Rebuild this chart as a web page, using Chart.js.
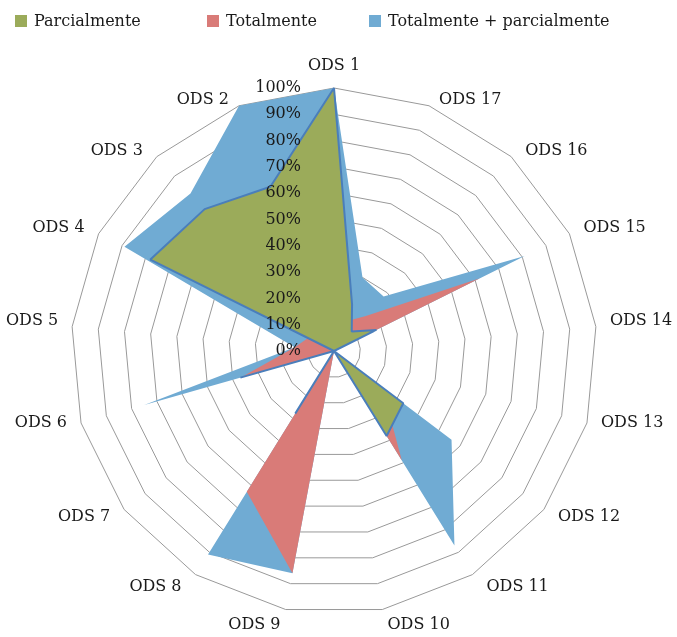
<!DOCTYPE html>
<html><head><meta charset="utf-8">
<script src="https://cdn.jsdelivr.net/npm/chart.js@4/dist/chart.umd.min.js"></script>
<style>
html,body{margin:0;padding:0;background:#fff;overflow:hidden;}
#wrap{position:relative;width:677px;height:637px;overflow:hidden;}
canvas{position:absolute;left:0;top:0;}
#legend{position:absolute;left:0;top:0;width:677px;height:40px;font-family:"DejaVu Serif";font-size:16px;color:#1a1a1a;z-index:2;}
.item{position:absolute;top:11px;display:flex;align-items:center;white-space:nowrap;line-height:20px;}
.box{width:12px;height:12px;margin-right:7px;}
</style></head><body>
<div id="wrap"><canvas id="c" width="677" height="637"></canvas><div id="legend"></div></div>
<script>
const categories = ["ODS 1","ODS 17","ODS 16","ODS 15","ODS 14","ODS 13","ODS 12","ODS 11","ODS 10","ODS 9","ODS 8","ODS 7","ODS 6","ODS 5","ODS 4","ODS 3","ODS 2"];
const parcialmente = [100, 19, 10, 18, 0, 0, 33, 38, 0, 0, 28, 0, 37, 0, 78, 73, 67];
const totalmente   = [0, 12, 18, 62, 0, 0, 23, 49, 0, 86, 63, 0, 37, 15, 11, 8, 33];
const totalParcial = [100, 30, 28, 81, 0, 0, 56, 87, 0, 86, 91, 0, 75, 15, 89, 81, 100];
const tickValues = [0, 10, 20, 30, 40, 50, 60, 70, 80, 90, 100];
const seriesNames = ["Parcialmente", "Totalmente", "Totalmente + parcialmente"];

const colGreen = "#9BAB5A", colRed = "#D97B78", colBlue = "#70ABD3", colEdge = "#4A7EBB";
const legendLeft = [15, 207, 369];
const legendColors = [colGreen, colRed, colBlue];
const FONT = '16px "DejaVu Serif"';

const lg = document.getElementById('legend');
seriesNames.forEach((n, i) => {
  const it = document.createElement('div');
  it.className = 'item';
  it.style.left = legendLeft[i] + 'px';
  const b = document.createElement('span');
  b.className = 'box';
  b.style.background = legendColors[i];
  const t = document.createElement('span');
  t.textContent = n;
  it.appendChild(b); it.appendChild(t);
  lg.appendChild(it);
});

// value-axis labels, placed left of the vertical axis like the original
const tickPlugin = {
  id: 'tickLabels',
  afterDatasetsDraw(chart) {
    const s = chart.scales.r, ctx = chart.ctx;
    ctx.save();
    ctx.font = FONT;
    ctx.fillStyle = '#1a1a1a';
    ctx.textAlign = 'right';
    ctx.textBaseline = 'middle';
    tickValues.forEach(v => {
      const d = s.getDistanceFromCenterForValue(v);
      ctx.fillText(v + '%', s.xCenter - 33, s.yCenter - d);
    });
    ctx.restore();
  }
};

// category labels at the end of each spoke (Excel-like placement)
const categoryPlugin = {
  id: 'categoryLabels',
  afterDraw(chart) {
    const s = chart.scales.r, ctx = chart.ctx;
    ctx.save();
    ctx.font = FONT;
    ctx.fillStyle = '#1a1a1a';
    ctx.textBaseline = 'middle';
    categories.forEach((lab, i) => {
      const p = s.getPointPosition(i, s.drawingArea);
      const a = s.getIndexAngle(i);
      const sn = Math.sin(a), cs = Math.cos(a);
      let x = p.x, y;
      if (Math.abs(sn) < 0.05) {
        ctx.textAlign = 'center';
        y = p.y + (cs > 0 ? -22 : 22);
      } else {
        const off = 14 * Math.min(1, Math.abs(sn) / 0.5);
        ctx.textAlign = sn > 0 ? 'left' : 'right';
        x = p.x + Math.sign(sn) * off;
        y = p.y - 6 + 22 * Math.max(0, -cs);
      }
      ctx.fillText(lab, x, y);
    });
    ctx.restore();
  }
};

new Chart(document.getElementById('c'), {
  type: 'radar',
  data: {
    labels: categories,
    datasets: [
      { label: seriesNames[0], data: parcialmente, backgroundColor: colGreen, borderColor: colEdge, borderWidth: 2, borderJoinStyle: 'bevel', pointRadius: 0, fill: 'origin', tension: 0 },
      { label: seriesNames[1], data: totalmente, backgroundColor: colRed, borderColor: 'rgba(0,0,0,0)', borderWidth: 0, pointRadius: 0, fill: 'origin', tension: 0 },
      { label: seriesNames[2], data: totalParcial, backgroundColor: colBlue, borderColor: 'rgba(0,0,0,0)', borderWidth: 0, pointRadius: 0, fill: 'origin', tension: 0 }
    ]
  },
  options: {
    responsive: false,
    animation: false,
    layout: { padding: { top: 88, bottom: 23, left: 71, right: 80 } },
    plugins: { legend: { display: false }, tooltip: { enabled: false } },
    scales: {
      r: {
        min: 0, max: 100,
        ticks: { stepSize: 10, display: false },
        grid: { color: '#999999', lineWidth: 1, circular: false },
        angleLines: { display: false },
        pointLabels: { display: false }
      }
    }
  },
  plugins: [tickPlugin, categoryPlugin]
});
</script>
</body></html>
